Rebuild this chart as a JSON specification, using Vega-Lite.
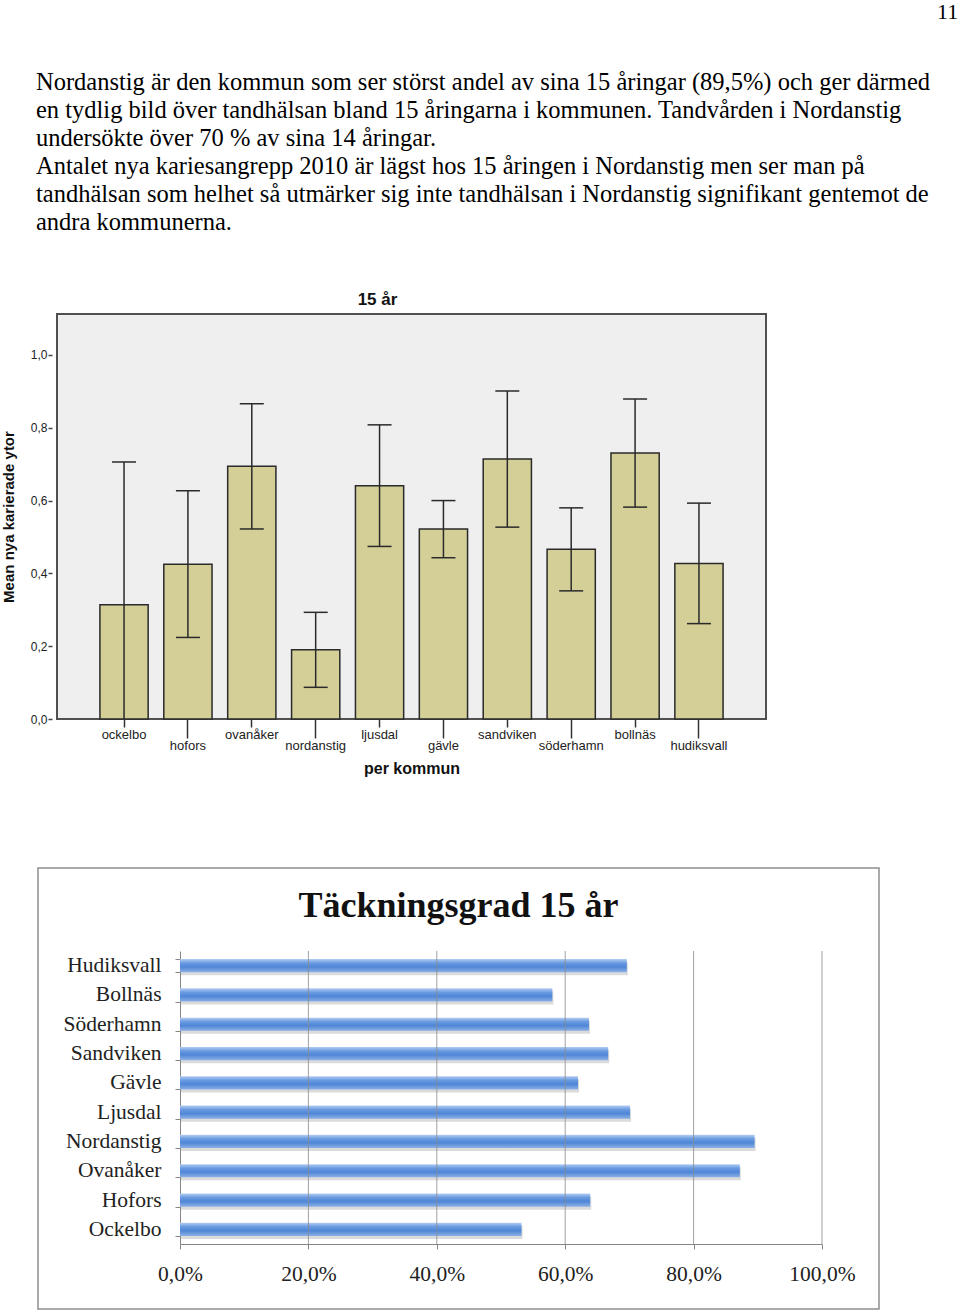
{
  "$schema": "https://vega.github.io/schema/vega-lite/v6.json",
  "background": "white",
  "padding": {"left": 0, "top": 0, "right": 0, "bottom": 0},
  "config": {"view": {"stroke": null}},
  "title": {"text": "11", "anchor": "end", "dx": 22, "font": "Liberation Serif", "fontSize": 22, "fontWeight": "normal", "color": "#000", "offset": 46},
  "spacing": 80,
  "vconcat": [
    {
      "title": {
        "text": [
          "Nordanstig är den kommun som ser störst andel av sina 15 åringar (89,5%)  och ger därmed",
          "en tydlig bild över tandhälsan bland 15 åringarna i kommunen. Tandvården i Nordanstig",
          "undersökte över 70 % av sina 14 åringar.",
          "Antalet nya kariesangrepp 2010 är lägst hos 15 åringen i Nordanstig men ser man på",
          "tandhälsan som helhet så utmärker sig inte tandhälsan i Nordanstig signifikant gentemot de",
          "andra kommunerna."
        ],
        "anchor": "start", "dx": 36, "font": "Liberation Serif", "fontSize": 24.5, "fontWeight": "normal", "lineHeight": 28, "color": "#000", "offset": 56
      },
      "vconcat": [
        {
          "width": 767,
          "height": 405,
          "view": {"stroke": null},
          "title": {"text": "15 år", "anchor": "middle", "dx": -6, "font": "Liberation Sans", "fontSize": 17, "fontWeight": "bold", "color": "#111", "offset": 4},
          "resolve": {"scale": {"x": "independent"}, "axis": {"x": "independent"}},
          "layer": [
            {
              "data": {"values": [{"ruta": "plot"}]},
              "mark": {"type": "rect", "fill": "#efefef", "stroke": "#505050", "strokeWidth": 2},
              "encoding": {
                "x": {"datum": 0, "type": "quantitative", "scale": {"domain": [0, 1], "range": [57, 766], "nice": false}, "axis": null},
                "x2": {"datum": 1},
                "y": {
                  "datum": 0, "type": "quantitative",
                  "scale": {"domain": [0, 1.1125], "nice": false, "zero": true},
                  "axis": {
                    "title": "Mean nya karierade ytor", "titleFont": "Liberation Sans Narrow, Liberation Sans", "titleFontSize": 15, "titleFontWeight": "bold", "titleColor": "#111", "titlePadding": 14,
                    "values": [0, 0.2, 0.4, 0.6, 0.8, 1.0],
                    "labelExpr": "replace(format(datum.value, '.1f'), '.', ',')",
                    "labelFont": "Liberation Sans", "labelFontSize": 12, "labelColor": "#222", "labelPadding": 1,
                    "tickSize": 4, "tickColor": "#444", "tickWidth": 1.5, "offset": -52, "domain": false, "grid": false
                  }
                },
                "y2": {"datum": 1.1125}
              }
            },
            {
              "data": {"values": [
                {"kommun": "ockelbo", "mean": 0.314, "lower": -0.08, "upper": 0.706},
                {"kommun": "hofors", "mean": 0.425, "lower": 0.224, "upper": 0.627},
                {"kommun": "ovanåker", "mean": 0.694, "lower": 0.522, "upper": 0.866},
                {"kommun": "nordanstig", "mean": 0.190, "lower": 0.087, "upper": 0.293},
                {"kommun": "ljusdal", "mean": 0.641, "lower": 0.474, "upper": 0.808},
                {"kommun": "gävle", "mean": 0.522, "lower": 0.443, "upper": 0.600},
                {"kommun": "sandviken", "mean": 0.714, "lower": 0.527, "upper": 0.901},
                {"kommun": "söderhamn", "mean": 0.466, "lower": 0.352, "upper": 0.580},
                {"kommun": "bollnäs", "mean": 0.731, "lower": 0.582, "upper": 0.879},
                {"kommun": "hudiksvall", "mean": 0.427, "lower": 0.262, "upper": 0.593}
              ]},
              "encoding": {
                "x": {
                  "field": "kommun", "type": "nominal", "sort": null,
                  "scale": {"range": [57, 766], "paddingInner": 0.245, "paddingOuter": 0.672},
                  "axis": {
                    "title": "per kommun", "titleFont": "Liberation Sans", "titleFontSize": 16, "titleFontWeight": "bold", "titleColor": "#111", "titlePadding": 8,
                    "labelAngle": 0, "labelFont": "Liberation Sans", "labelFontSize": 13, "labelColor": "#222",
                    "labelOverlap": false, "labelBound": false, "labelPadding": 1,
                    "tickSize": {"condition": {"test": "round(datum.index * 9) % 2 == 1", "value": 19}, "value": 8},
                    "tickColor": "#333", "tickWidth": 1.5, "domain": false, "grid": false
                  }
                }
              },
              "layer": [
                {
                  "mark": {"type": "bar", "fill": "#d3cf97", "stroke": "#2a2a2a", "strokeWidth": 1.5},
                  "encoding": {"y": {"field": "mean", "type": "quantitative"}}
                },
                {
                  "mark": {"type": "rule", "color": "#2a2a2a", "strokeWidth": 1.5, "clip": true},
                  "encoding": {
                    "y": {"field": "lower", "type": "quantitative"},
                    "y2": {"field": "upper"}
                  }
                },
                {
                  "mark": {"type": "tick", "orient": "horizontal", "size": 24, "thickness": 1.5, "color": "#2a2a2a", "clip": true, "opacity": 1},
                  "encoding": {"y": {"field": "upper", "type": "quantitative"}}
                },
                {
                  "mark": {"type": "tick", "orient": "horizontal", "size": 24, "thickness": 1.5, "color": "#2a2a2a", "clip": true, "opacity": 1},
                  "encoding": {"y": {"field": "lower", "type": "quantitative"}}
                }
              ]
            }
          ]
        }
      ]
    },
    {
      "spacing": 0,
      "hconcat": [
        {
          "width": 37,
          "height": 441,
          "view": {"fill": "white", "stroke": null},
          "data": {"values": []},
          "mark": {"type": "point", "opacity": 0}
        },
        {
          "width": 841,
          "height": 441,
          "view": {"fill": "white", "stroke": "#8f8f8f", "strokeWidth": 1.5},
          "title": {"text": "Täckningsgrad 15 år", "anchor": "middle", "font": "Liberation Serif", "fontSize": 36, "fontWeight": "bold", "color": "#111", "offset": -68},
          "resolve": {"scale": {"y": "independent"}, "axis": {"y": "independent"}},
          "layer": [
            {
              "data": {"values": [
                {"kommun": "Hudiksvall", "andel": 0.696},
                {"kommun": "Bollnäs", "andel": 0.580},
                {"kommun": "Söderhamn", "andel": 0.637},
                {"kommun": "Sandviken", "andel": 0.667},
                {"kommun": "Gävle", "andel": 0.620},
                {"kommun": "Ljusdal", "andel": 0.701},
                {"kommun": "Nordanstig", "andel": 0.895},
                {"kommun": "Ovanåker", "andel": 0.872},
                {"kommun": "Hofors", "andel": 0.639},
                {"kommun": "Ockelbo", "andel": 0.532}
              ]},
              "encoding": {
                "y": {
                  "field": "kommun", "type": "nominal", "sort": null,
                  "scale": {"range": [83, 376], "paddingInner": 0.55, "paddingOuter": 0.275},
                  "axis": {
                    "title": null, "offset": -142,
                    "labelFont": "Liberation Serif", "labelFontSize": 21.5, "labelColor": "#222", "labelPadding": 14,
                    "tickBand": "extent", "tickSize": 5, "tickColor": "#868686", "domainColor": "#868686", "domainWidth": 1, "grid": false
                  }
                },
                "x": {
                  "field": "andel", "type": "quantitative",
                  "scale": {"domain": [0, 1], "range": [142, 784], "nice": false},
                  "axis": {
                    "title": null, "offset": -65,
                    "values": [0, 0.2, 0.4, 0.6, 0.8, 1.0],
                    "labelExpr": "replace(format(datum.value, '.1%'), '.', ',')",
                    "labelFont": "Liberation Serif", "labelFontSize": 21.5, "labelColor": "#222", "labelPadding": 14, "labelFlush": false,
                    "grid": false,
                    "tickSize": 5, "tickColor": "#868686", "domainColor": "#868686", "domainWidth": 1
                  }
                }
              },
              "layer": [
                {
                  "mark": {"type": "bar", "color": "#bdbdbd", "opacity": 0.55, "yOffset": 3, "xOffset": 1}
                },
                {
                  "mark": {
                    "type": "bar",
                    "color": {
                      "gradient": "linear", "x1": 0, "y1": 0, "x2": 0, "y2": 1,
                      "stops": [
                        {"offset": 0, "color": "#b3cdf1"},
                        {"offset": 0.3, "color": "#6a9be2"},
                        {"offset": 0.6, "color": "#4f86d6"},
                        {"offset": 1, "color": "#8cb0e6"}
                      ]
                    }
                  }
                }
              ]
            },
            {
              "data": {"values": [{"g": 0.2}, {"g": 0.4}, {"g": 0.6}, {"g": 0.8}, {"g": 1.0}]},
              "mark": {"type": "rule", "color": "#8a8a8a", "strokeWidth": 1, "opacity": 0.8},
              "encoding": {
                "x": {"field": "g", "type": "quantitative"},
                "y": {"datum": 0, "type": "quantitative", "scale": {"domain": [0, 1], "range": [83, 376], "nice": false, "zero": false}, "axis": null},
                "y2": {"datum": 1}
              }
            }
          ]
        }
      ]
    }
  ]
}
